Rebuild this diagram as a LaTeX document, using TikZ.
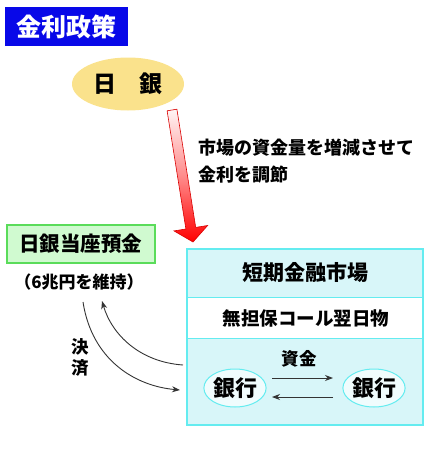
\documentclass[tikz,border=0pt]{standalone}
\usepackage{fontspec}
\setmainfont{Noto Sans CJK JP}
\usetikzlibrary{shapes.geometric,arrows.meta}
\definecolor{titleblue}{RGB}{8,8,232}
\definecolor{boj}{RGB}{250,226,140}
\definecolor{gfill}{RGB}{208,250,208}
\definecolor{gline}{RGB}{90,220,90}
\definecolor{cfill}{RGB}{216,246,249}
\definecolor{cline}{RGB}{100,236,240}
\definecolor{efill}{RGB}{240,252,253}
\tikzset{
  jt/.style={font=\bfseries\fontsize{#1}{#1}\selectfont, inner sep=0pt},
  bankell/.style={ellipse, draw=cline, line width=1pt, fill=efill, minimum width=62pt, minimum height=38pt, inner sep=0pt, font=\bfseries\fontsize{22}{22}\selectfont},
  flow/.style={-{Stealth[length=8pt,width=6pt]}, line width=0.9pt, black!80},
}
\begin{document}
\begin{tikzpicture}[x=1pt,y=-1pt]
\useasboundingbox (0,0) rectangle (436,450);
% title
\node[fill=titleblue, minimum width=123pt, minimum height=39pt, inner sep=0pt, anchor=north west] (title) at (5,7) {};
\node[jt=25, text=white] (titletext) at (title.center) {金利政策};
% BOJ ellipse
\node[ellipse, fill=boj, minimum width=112pt, minimum height=53pt, inner sep=0pt] (boj) at (128,84) {};
\node[jt=23] (bojtext) at (boj.center) {日　銀};
% red arrow
\draw[draw=red!85!black, line width=0.6pt, top color=red!4, bottom color=red, middle color=red!45]
  (167.1,110.8) -- (176.9,109.2) -- (195.7,227.4) -- (207.6,225.5) -- (193,242) -- (174.0,230.9) -- (185.9,229.0) -- cycle;
% explanation text
\node[jt=18, anchor=west] (expl1) at (198,148) {市場の資金量を増減させて};
\node[jt=18, anchor=west] (expl2) at (198,175) {金利を調節};
% green box
\node[fill=gfill, draw=gline, line width=1.6pt, minimum width=148pt, minimum height=38pt, inner sep=0pt, anchor=north west] (cur) at (6,224) {};
\node[jt=20.5] (curtext) at (cur.center) {日銀当座預金};
\node[jt=17] (keep) at (79,282) {（6兆円を維持）};
% market box
\draw[cline, line width=1.6pt, fill=cfill] (187,249) rectangle (423,425);
\fill[white] (188,297) rectangle (422,338);
\draw[cline, line width=1pt] (187,297) -- (423,297);
\draw[cline, line width=1pt] (187,338) -- (423,338);
\node[jt=21] (mkt) at (305,273) {短期金融市場};
\node[jt=18.5] (call) at (306,318) {無担保コール翌日物};
\node[jt=17.5] (fund) at (299,359) {資金};
\node[bankell] (b1) at (235,388) {銀行};
\node[bankell] (b2) at (374,388) {銀行};
\coordinate (a1s) at (272,378);
\coordinate (a1e) at (333,378);
\coordinate (a2s) at (333,397);
\coordinate (a2e) at (272,397);
\draw[flow] (a1s) -- (a1e);
\draw[flow] (a2s) -- (a2e);
% settlement arrows
\coordinate (s1s) at (83,302);
\coordinate (s1e) at (180,390);
\coordinate (s2s) at (183,365);
\coordinate (s2e) at (102,301);
\draw[flow] (s1s) .. controls (92,360) and (135,386) .. (s1e);
\draw[flow] (s2s) .. controls (140,362) and (112,335) .. (s2e);
\node[jt=17.5] (kes1) at (80,347) {決};
\node[jt=17.5] (kes2) at (80,368) {済};
\end{tikzpicture}
\end{document}
